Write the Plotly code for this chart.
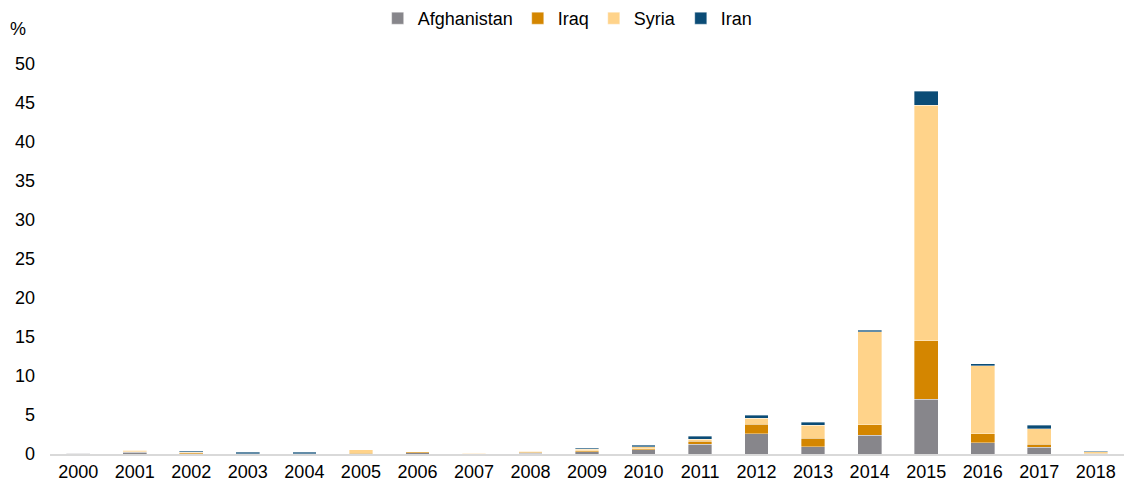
import plotly.graph_objects as go

years = [str(y) for y in range(2000, 2019)]

afghanistan = [0.08, 0.20, 0.05, 0.05, 0.05, 0.00, 0.18, 0.05, 0.12, 0.30, 0.55, 1.23, 2.60, 0.90, 2.40, 7.05, 1.45, 0.85, 0.05]
iraq        = [0.00, 0.12, 0.18, 0.00, 0.00, 0.12, 0.10, 0.00, 0.08, 0.12, 0.12, 0.42, 1.20, 1.10, 1.36, 7.45, 1.15, 0.43, 0.05]
syria       = [0.07, 0.18, 0.00, 0.00, 0.00, 0.40, 0.00, 0.05, 0.18, 0.18, 0.25, 0.25, 0.80, 1.70, 11.90, 30.20, 8.70, 1.97, 0.22]
iran        = [0.00, 0.00, 0.10, 0.15, 0.15, 0.00, 0.00, 0.07, 0.00, 0.15, 0.20, 0.40, 0.40, 0.40, 0.20, 1.80, 0.30, 0.43, 0.05]

series = [
    ("Afghanistan", afghanistan, "#87868b"),
    ("Iraq", iraq, "#d48600"),
    ("Syria", syria, "#ffd38a"),
    ("Iran", iran, "#0b4c76"),
]

font = "Liberation Sans, Arial, sans-serif"

fig = go.Figure()
for name, vals, color in series:
    fig.add_trace(go.Bar(
        x=years, y=vals, name=name,
        marker=dict(color=color, line=dict(color="rgba(255,255,255,0.45)", width=0.8)),
        width=0.42,
    ))

fig.update_layout(
    barmode="stack",
    width=1124, height=491,
    margin=dict(l=50, r=0, t=64, b=37),
    paper_bgcolor="white", plot_bgcolor="white",
    font=dict(family=font, size=18, color="#000000"),
    showlegend=True,
    legend=dict(orientation="h", x=0.482, xanchor="center", xref="paper",
                y=1.0, yref="container", yanchor="top",
                font=dict(size=18), itemwidth=30, traceorder="normal",
                itemclick=False),
    xaxis=dict(type="category", showgrid=False, showline=True,
               linecolor="#d9d9d9", linewidth=2, ticks="",
               tickfont=dict(size=18), range=[-0.5, 18.5]),
    yaxis=dict(range=[0, 50], dtick=5, showgrid=False, showline=False,
               zeroline=False, ticks="", tickfont=dict(size=18),
               ticklabelstandoff=14),
    annotations=[dict(text="%", x=-0.03, y=1.09, xref="paper", yref="paper",
                      xanchor="center", yanchor="middle", showarrow=False,
                      font=dict(size=18))],
)

fig.write_html("out.html")
